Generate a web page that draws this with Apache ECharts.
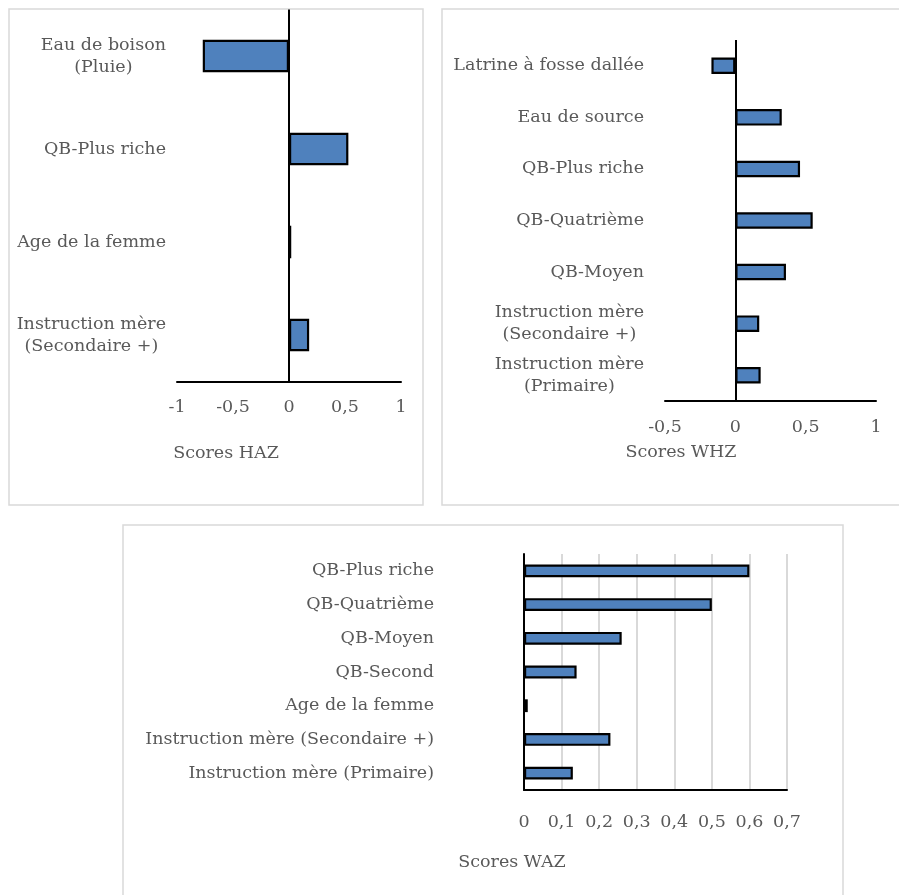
<!DOCTYPE html>
<html>
<head>
<meta charset="utf-8">
<script src="https://cdn.jsdelivr.net/npm/echarts@6/dist/echarts.min.js"></script>
<style>html,body{margin:0;padding:0;background:#fff}#c{width:899px;height:895px}</style>
</head>
<body>
<div id="c"></div>
<script>
// ---- data ----
const hazCategories = ["Eau de boison\n(Pluie)", "QB-Plus riche", "Age de la femme", "Instruction mère\n(Secondaire +)"];
const hazValues = [-0.77, 0.53, 0.02, 0.18];
const hazTicks = { min: -1, max: 1, interval: 0.5 };

const whzCategories = ["Latrine à fosse dallée", "Eau de source", "QB-Plus riche", "QB-Quatrième", "QB-Moyen", "Instruction mère\n(Secondaire +)", "Instruction mère\n(Primaire)"];
const whzValues = [-0.17, 0.33, 0.46, 0.55, 0.36, 0.17, 0.18];
const whzTicks = { min: -0.5, max: 1, interval: 0.5 };

const wazCategories = ["QB-Plus riche", "QB-Quatrième", "QB-Moyen", "QB-Second", "Age de la femme", "Instruction mère (Secondaire +)", "Instruction mère (Primaire)"];
const wazValues = [0.60, 0.50, 0.26, 0.14, 0.01, 0.23, 0.13];
const wazTicks = { min: 0, max: 0.7, interval: 0.1 };

const axisTitles = ["Scores HAZ", "Scores WHZ", "Scores WAZ"];

// ---- style ----
const FONT = "DejaVu Serif";
const FS = 17.5;
const LH = 22;
const TXT = "#595959";
const BAR = "#4f81bd";

const fmtNum = v => String(+v.toFixed(2)).replace('.', ',');
const catFmt = s => s.split('\n').map(l => '{c|' + l + '}').join('\n');

function xAx(grid, t, margin, split) {
  return {
    type: 'value', gridIndex: grid, min: t.min, max: t.max, interval: t.interval,
    axisLine: { show: true, onZero: false, lineStyle: { color: '#000', width: 2 } },
    axisTick: { show: false },
    splitLine: { show: split, lineStyle: { color: '#d9d9d9', width: 2 } },
    axisLabel: { color: TXT, fontFamily: FONT, fontSize: FS, margin: margin, formatter: fmtNum }
  };
}
function yAx(grid, cats, margin, showLine) {
  return {
    type: 'category', gridIndex: grid, data: cats, inverse: true,
    axisLine: { show: showLine, onZero: false, lineStyle: { color: '#000', width: 2 } },
    axisTick: { show: false },
    axisLabel: {
      color: TXT, fontFamily: FONT, fontSize: FS, margin: margin, align: 'right',
      lineHeight: LH, formatter: catFmt,
      rich: { c: { align: 'center', color: TXT, fontFamily: FONT, fontSize: FS, lineHeight: LH } }
    }
  };
}
function barSeries(i, vals, width, zeroLine) {
  const s = {
    type: 'bar', xAxisIndex: i, yAxisIndex: i, data: vals, barWidth: width,
    itemStyle: { color: BAR, borderColor: '#000', borderWidth: 2.2 },
    silent: true
  };
  if (zeroLine) {
    s.markLine = {
      silent: true, symbol: ['none', 'none'], label: { show: false },
      lineStyle: { color: '#000', width: 2, type: 'solid' },
      data: [{ xAxis: 0 }]
    };
  }
  return s;
}

const chart = echarts.init(document.getElementById('c'), null, { renderer: 'canvas' });
chart.setOption({
  animation: false,
  backgroundColor: '#fff',
  grid: [
    { left: 177, top: 9.5, width: 224, height: 372 },
    { left: 665, top: 40, width: 211, height: 361 },
    { left: 524, top: 554, width: 263, height: 236 }
  ],
  xAxis: [xAx(0, hazTicks, 17, false), xAx(1, whzTicks, 17, false), xAx(2, wazTicks, 23, true)],
  yAxis: [yAx(0, hazCategories, 11, false), yAx(1, whzCategories, 21, false), yAx(2, wazCategories, 90, true)],
  series: [barSeries(0, hazValues, '35%', true), barSeries(1, whzValues, '32%', true), barSeries(2, wazValues, '38%', false)],
  graphic: [
    { type: 'rect', shape: { x: 9, y: 9, width: 414, height: 496 }, style: { fill: 'none', stroke: '#d9d9d9', lineWidth: 1.5 }, z: -10 },
    { type: 'rect', shape: { x: 442, y: 9, width: 480, height: 496 }, style: { fill: 'none', stroke: '#d9d9d9', lineWidth: 1.5 }, z: -10 },
    { type: 'rect', shape: { x: 123, y: 525, width: 720, height: 400 }, style: { fill: 'none', stroke: '#d9d9d9', lineWidth: 1.5 }, z: -10 },
    { type: 'text', x: 226, y: 453, style: { text: axisTitles[0], fill: TXT, font: FS + 'px "' + FONT + '"', textAlign: 'center', textVerticalAlign: 'middle' } },
    { type: 'text', x: 681, y: 452, style: { text: axisTitles[1], fill: TXT, font: FS + 'px "' + FONT + '"', textAlign: 'center', textVerticalAlign: 'middle' } },
    { type: 'text', x: 512, y: 862, style: { text: axisTitles[2], fill: TXT, font: FS + 'px "' + FONT + '"', textAlign: 'center', textVerticalAlign: 'middle' } }
  ]
});
</script>
</body>
</html>
